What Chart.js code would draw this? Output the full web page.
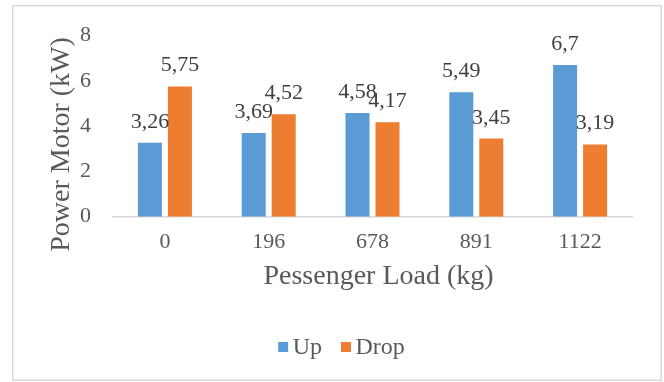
<!DOCTYPE html>
<html>
<head>
<meta charset="utf-8">
<script src="https://cdn.jsdelivr.net/npm/chart.js@4.4.1/dist/chart.umd.min.js"></script>
<style>
  html, body { margin: 0; padding: 0; background: #ffffff; }
  #wrap { width: 664px; height: 382px; position: relative; }
  canvas { display: block; }
</style>
</head>
<body>
<div id="wrap"><canvas id="chart" width="664" height="382"></canvas></div>
<script>
// Passenger load categories (kg) and motor power per direction (kW)
const categories = ['0', '196', '678', '891', '1122'];
const upValues = [3.26, 3.69, 4.58, 5.49, 6.7];
const dropValues = [5.75, 4.52, 4.17, 3.45, 3.19];
const seriesNames = ['Up', 'Drop'];
const yTickValues = [0, 2, 4, 6, 8];
const xAxisTitle = 'Pessenger Load (kg)';
const yAxisTitle = 'Power Motor (kW)';

const FONT = "'Liberation Serif', 'Times New Roman', serif";
const TEXT = '#595959';
const LABEL = '#404040';
const BLUE = '#5B9BD5';
const ORANGE = '#ED7D31';

// White background and light frame around the whole chart
const chartFrame = {
  id: 'chartFrame',
  beforeDraw(chart) {
    const ctx = chart.ctx;
    ctx.save();
    ctx.fillStyle = '#ffffff';
    ctx.fillRect(0, 0, chart.width, chart.height);
    ctx.strokeStyle = '#d9d9d9';
    ctx.lineWidth = 1.5;
    ctx.strokeRect(12.75, 5.75, 648.5, 374.5);
    ctx.restore();
  }
};

// Value labels above each bar, decimal comma
const valueLabels = {
  id: 'valueLabels',
  afterDatasetsDraw(chart) {
    const ctx = chart.ctx;
    ctx.save();
    ctx.font = '22px ' + FONT;
    ctx.fillStyle = LABEL;
    ctx.textAlign = 'center';
    ctx.textBaseline = 'alphabetic';
    chart.data.datasets.forEach((ds, i) => {
      const meta = chart.getDatasetMeta(i);
      meta.data.forEach((bar, j) => {
        ctx.fillText(String(ds.data[j]).replace('.', ','), bar.x, bar.y - 15);
      });
    });
    ctx.restore();
  }
};

// Axis titles
const axisTitles = {
  id: 'axisTitles',
  afterDraw(chart) {
    const ctx = chart.ctx;
    const area = chart.chartArea;
    ctx.save();
    ctx.font = '28px ' + FONT;
    ctx.fillStyle = TEXT;
    ctx.textAlign = 'center';
    ctx.textBaseline = 'middle';
    ctx.fillText(xAxisTitle, (area.left + area.right) / 2 + 6, area.bottom + 60);
    ctx.translate(62, 144.5);
    ctx.rotate(-Math.PI / 2);
    ctx.fillText(yAxisTitle, 0, 0);
    ctx.restore();
  }
};

// Legend row below the axis title: small square swatch, then the series name
const bottomLegend = {
  id: 'bottomLegend',
  afterDraw(chart) {
    const ctx = chart.ctx;
    ctx.save();
    ctx.font = '24px ' + FONT;
    ctx.textBaseline = 'middle';
    ctx.textAlign = 'left';
    const box = 10, gapText = 4.5, gapItem = 19, cy = 347;
    const items = chart.data.datasets.map(ds => ({
      text: ds.label, color: ds.backgroundColor, w: ctx.measureText(ds.label).width
    }));
    let total = 0;
    items.forEach((it, i) => { total += box + gapText + it.w + (i ? gapItem : 0); });
    let x = 341.5 - total / 2;
    items.forEach((it, i) => {
      if (i) x += gapItem;
      ctx.fillStyle = it.color;
      ctx.fillRect(x, cy - box / 2, box, box);
      x += box + gapText;
      ctx.fillStyle = TEXT;
      ctx.fillText(it.text, x, cy + 1);
      x += it.w;
    });
    ctx.restore();
  }
};

new Chart(document.getElementById('chart'), {
  type: 'bar',
  data: {
    labels: categories,
    datasets: [
      { label: seriesNames[0], data: upValues, backgroundColor: BLUE },
      { label: seriesNames[1], data: dropValues, backgroundColor: ORANGE }
    ]
  },
  options: {
    responsive: false,
    animation: false,
    devicePixelRatio: 1,
    categoryPercentage: 0.578,
    barPercentage: 0.8,
    layout: { padding: { left: 0, right: 32, top: 35.5, bottom: 85.3 } },
    plugins: {
      legend: { display: false },
      tooltip: { enabled: false }
    },
    scales: {
      x: {
        grid: { display: false, drawTicks: false },
        border: { display: true, color: '#d9d9d9', width: 1.5 },
        ticks: { color: TEXT, font: { family: FONT, size: 22 }, padding: 12 },
        afterFit(scale) { scale.height = 80; }
      },
      y: {
        min: 0,
        max: 8,
        grid: { display: false, drawTicks: false },
        border: { display: false },
        ticks: { color: TEXT, font: { family: FONT, size: 22 }, padding: 22 },
        afterBuildTicks(scale) { scale.ticks = yTickValues.map(v => ({ value: v })); },
        afterFit(scale) { scale.width = 113; }
      }
    }
  },
  plugins: [chartFrame, valueLabels, axisTitles, bottomLegend]
});
</script>
</body>
</html>
